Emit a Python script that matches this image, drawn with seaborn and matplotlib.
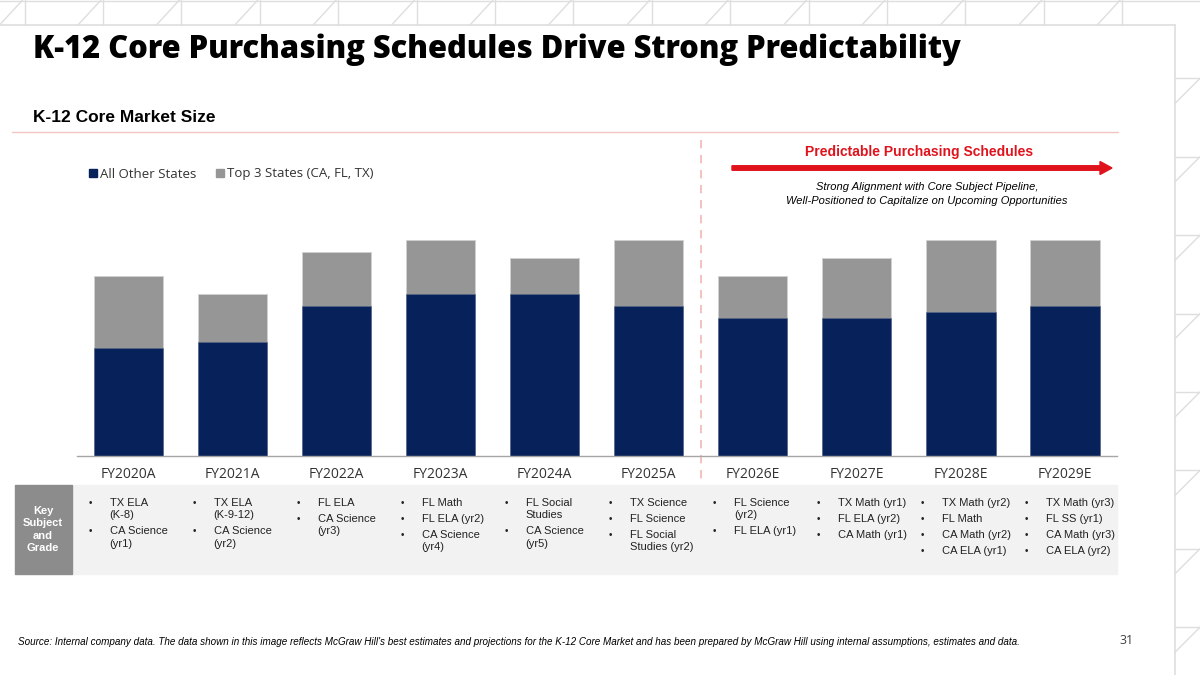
import numpy as np
import pandas as pd
import matplotlib
matplotlib.use("Agg")
import matplotlib.pyplot as plt
from matplotlib.patches import Rectangle, Patch
from matplotlib.lines import Line2D
import seaborn as sns

# datos
years = ["FY2020A", "FY2021A", "FY2022A", "FY2023A", "FY2024A",
         "FY2025A", "FY2026E", "FY2027E", "FY2028E", "FY2029E"]
all_other = [18, 19, 25, 27, 27, 25, 23, 23, 24, 25]
top3 = [12, 8, 9, 9, 6, 11, 7, 10, 12, 11]

key_subjects = [
    ["TX ELA\n(K-8)", "CA Science\n(yr1)"],
    ["TX ELA\n(K-9-12)", "CA Science\n(yr2)"],
    ["FL ELA", "CA Science\n(yr3)"],
    ["FL Math", "FL ELA (yr2)", "CA Science\n(yr4)"],
    ["FL Social\nStudies", "CA Science\n(yr5)"],
    ["TX Science", "FL Science", "FL Social\nStudies (yr2)"],
    ["FL Science\n(yr2)", "FL ELA (yr1)"],
    ["TX Math (yr1)", "FL ELA (yr2)", "CA Math (yr1)"],
    ["TX Math (yr2)", "FL Math", "CA Math (yr2)", "CA ELA (yr1)"],
    ["TX Math (yr3)", "FL SS (yr1)", "CA Math (yr3)", "CA ELA (yr2)"],
]

NAVY = "#07215a"
GRAY = "#969696"
RED = "#e0121c"

sns.set_theme(style="white")
plt.rcParams["font.family"] = ["Open Sans", "DejaVu Sans"]

W, H = 1200, 675
fig = plt.figure(figsize=(12, 6.75), dpi=100)


def px(x, y):
    return x / W, 1 - y / H


# --------------------- decoracion del fondo ---------------------
deco = "#dedede"
for k in range(16):
    xv = 24.6 + 78.4 * k
    if xv < 1175:
        fig.add_artist(Line2D([xv / W, xv / W], [1, 1 - 25 / H], color=deco, lw=1))
        fig.add_artist(Line2D([(xv - 25) / W, (xv - 2) / W], [1 - 25 / H, 1], color=deco, lw=1))
for k in range(1, 9):
    yh = 78.4 * k
    fig.add_artist(Line2D([1175 / W, 1], [1 - yh / H, 1 - yh / H], color=deco, lw=1))
    fig.add_artist(Line2D([1175 / W, 1], [1 - (yh + 25) / H, 1 - yh / H], color=deco, lw=1))
fig.add_artist(Line2D([0, 1175 / W], [1 - 25 / H, 1 - 25 / H], color=deco, lw=1.2))
fig.add_artist(Line2D([1175 / W, 1175 / W], [0, 1 - 25 / H], color=deco, lw=1.2))
fig.add_artist(Line2D([0, 1], [1 - 1 / H, 1 - 1 / H], color=deco, lw=1))

# --------------------- titulos ---------------------
fig.text(*px(33, 50), "K-12 Core Purchasing Schedules Drive Strong Predictability",
         fontsize=22.2, fontweight=800, color="black", va="center", ha="left")
fig.text(*px(33, 117), "K-12 Core Market Size", family="Liberation Sans",
         fontsize=12.5, fontweight="bold", color="black", va="center", ha="left")
fig.add_artist(Line2D([12 / W, 1118 / W], [1 - 132 / H] * 2, color="#f2c4c4", lw=1))

# --------------------- grafico de barras ---------------------
df = pd.DataFrame({"year": years, "other": all_other, "top3": top3})
df["total"] = df["other"] + df["top3"]

ax = fig.add_axes([76.5 / W, 1 - 456 / H, (1117 - 76.5) / W, 300 / H])
sns.barplot(data=df, x="year", y="total", color=GRAY, width=0.665,
            saturation=1, edgecolor="#d0d0d0", linewidth=0.6, ax=ax)
sns.barplot(data=df, x="year", y="other", color=NAVY, width=0.665,
            saturation=1, edgecolor="#5a6a8a", linewidth=0.4, ax=ax)
ax.set_xlim(-0.5, 9.5)
ax.set_ylim(0, 50)
ax.set_xlabel("")
ax.set_ylabel("")
ax.set_yticks([])
for s in ["top", "left", "right"]:
    ax.spines[s].set_visible(False)
ax.spines["bottom"].set_color("#a6a6a6")
ax.spines["bottom"].set_linewidth(1)
ax.tick_params(axis="x", length=0, pad=8, labelsize=10, labelcolor="#333333")

# linea punteada entre actual y estimado
ax.plot([5.5, 5.5], [52.7, -4.2], color="#f4b6b6", lw=1.2, ls=(0, (5, 4)), clip_on=False)

# leyenda
handles = [Patch(color=NAVY, label="All Other States"),
           Patch(color=GRAY, label="Top 3 States (CA, FL, TX)")]
fig.legend(handles=handles, loc="center left", bbox_to_anchor=px(77, 174), ncol=2,
           frameon=False, fontsize=9.5, handlelength=0.6, handleheight=0.6,
           handletextpad=0.25, columnspacing=1.5, labelcolor="#333333")

# --------------------- anotacion derecha ---------------------
fig.text(*px(919, 152), "Predictable Purchasing Schedules", family="Liberation Sans",
         fontsize=10, fontweight="bold", color=RED, ha="center", va="center")
fig.add_artist(matplotlib.patches.FancyArrow(
    732 / W, 1 - 168 / H, (1112 - 732 - 12) / W, 0, width=4.5 / H,
    head_width=13 / H, head_length=12 / W, color=RED, length_includes_head=False))
fig.text(*px(927, 187), "Strong Alignment with Core Subject Pipeline,", family="Liberation Sans",
         fontsize=8, style="italic", color="black", ha="center", va="center")
fig.text(*px(927, 201), "Well-Positioned to Capitalize on Upcoming Opportunities",
         family="Liberation Sans", fontsize=8, style="italic", color="black",
         ha="center", va="center")

# --------------------- tabla de materias ---------------------
fig.add_artist(Rectangle(px(72, 574), (1117 - 72) / W, 89 / H, color="#f2f2f2", zorder=0))
fig.add_artist(Rectangle(px(15, 574), 57 / W, 89 / H, color="#8c8c8c", zorder=0))
for i, word in enumerate(["Key", "Subject", "and", "Grade"]):
    fig.text(*px(43, 511 + 12.4 * i), word, family="Liberation Sans", fontsize=8,
             fontweight="bold", color="white", ha="center", va="center")

line_h = 12.5
gap = 3.5
for i, items in enumerate(key_subjects):
    xc = 128.5 + 104.05 * i
    y = 503
    for item in items:
        lines = item.split("\n")
        fig.text(*px(xc - 40, y), "•", family="Liberation Sans", fontsize=7,
                 color="#222222", ha="left", va="center")
        for j, ln in enumerate(lines):
            fig.text(*px(xc - 19, y + j * line_h), ln, family="Liberation Sans",
                     fontsize=8, color="#222222", ha="left", va="center")
        y += line_h * len(lines) + gap

# --------------------- pie ---------------------
fig.text(*px(18, 642), "Source: Internal company data. The data shown in this image reflects "
         "McGraw Hill's best estimates and projections for the K-12 Core Market and has been "
         "prepared by McGraw Hill using internal assumptions, estimates and data.",
         family="Liberation Sans", fontsize=7.15, style="italic", color="black",
         ha="left", va="center")
fig.text(*px(1127, 640), "31", fontsize=9, color="#404040", ha="center", va="center")

fig.savefig("out.png", dpi=100)
